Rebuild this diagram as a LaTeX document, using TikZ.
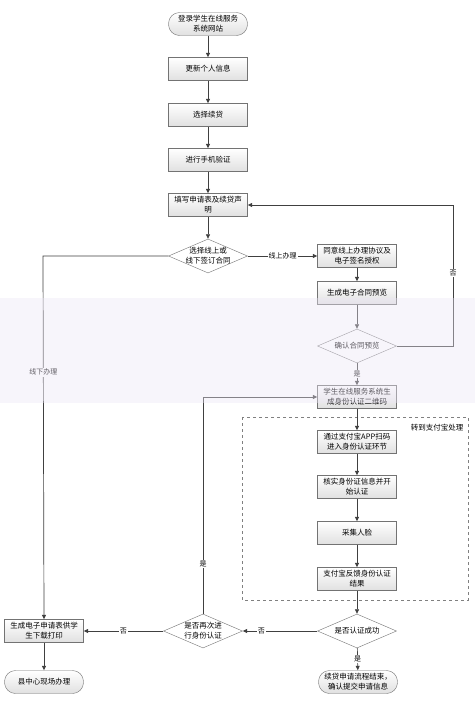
\documentclass[tikz,border=0pt]{standalone}
\usepackage{fontspec}
\setmainfont{Noto Sans CJK SC}
\usetikzlibrary{shapes.geometric,arrows.meta}
\definecolor{band}{RGB}{236,230,246}
\begin{document}
\begin{tikzpicture}[x=1pt,y=-1pt,
  every node/.style={font=\fontsize{7.5}{10}\selectfont},
  box/.style={draw=black!55, top color=white, bottom color=black!12, minimum width=79pt, minimum height=23pt, text width=74pt, align=center, inner sep=1pt},
  term/.style={box, rounded corners=11pt},
  dec/.style={diamond, draw=black!55, fill=white, minimum width=79pt, minimum height=34pt, inner sep=0pt},
  dectext/.style={align=center, inner sep=0pt},
  arr/.style={draw=black!75, line width=0.7pt, -{Triangle[length=4.5pt,width=4pt]}},
  lab/.style={fill=white, inner sep=1pt, font=\fontsize{7}{8}\selectfont}]
\useasboundingbox (0,0) rectangle (475,702);
\fill[white] (0,0) rectangle (475,702);

% main column
\node[term] (n1) at (208,24) {登录学生在线服务\\系统网站};
\node[box] (n2) at (208,69) {更新个人信息};
\node[box] (n3) at (208,115) {选择续贷};
\node[box] (n4) at (208,160) {进行手机验证};
\node[box] (n5) at (208,205) {填写申请表及续贷声\\明};
\node[dec] (d1) at (208,256) {};
\node[dectext] at (d1) {选择线上或\\线下签订合同};

% online branch
\node[box] (a1) at (357,256) {同意线上办理协议及\\电子签名授权};
\node[box] (a2) at (357,293) {生成电子合同预览};
\node[dec] (d2) at (357,346) {};
\node[dectext] at (d2) {确认合同预览};
\node[box] (q) at (357,397) {学生在线服务系统生\\成身份认证二维码};

% alipay group
\draw[black!50, dashed] (242,417) rectangle (468,600);
\node (grp) at (437,428) {转到支付宝处理};
\node[box] (b1) at (357,442) {通过支付宝APP扫码\\进入身份认证环节};
\node[box] (b2) at (357,487) {核实身份证信息并开\\始认证};
\node[box] (b3) at (357,533) {采集人脸};
\node[box] (b4) at (357,579) {支付宝反馈身份认证\\结果};
\node[dec] (d3) at (357,631) {};
\node[dectext] at (d3) {是否认证成功};
\node[term] (e1) at (358,682) {续贷申请流程结束，\\确认提交申请信息};

% retry / offline
\node[dec] (d4) at (203,631) {};
\node[dectext] at (d4) {是否再次进\\行身份认证};
\node[box] (p) at (44,631) {生成电子申请表供学\\生下载打印};
\node[term] (e2) at (44,682) {县中心现场办理};

\coordinate (c1) at (453,346);
\coordinate (c2) at (453,205);
\coordinate (c3) at (203,397);
\coordinate (c4) at (43,256);

% connectors
\draw[arr] (n1) -- (n2);
\draw[arr] (n2) -- (n3);
\draw[arr] (n3) -- (n4);
\draw[arr] (n4) -- (n5);
\draw[arr] (n5) -- (d1);
\draw[arr] (d1) -- node[lab] {线上办理} (a1);
\draw[arr] (a1) -- (a2);
\draw[arr] (a2) -- (d2);
\draw[arr] (d2.east) -- (c1) -- node[lab, pos=0.52] {否} (c2) -- (n5.east);
\draw[arr] (d2) -- node[lab] {是} (q);
\draw[arr] (q) -- (b1);
\draw[arr] (b1) -- (b2);
\draw[arr] (b2) -- (b3);
\draw[arr] (b3) -- (b4);
\draw[arr] (b4) -- (d3);
\draw[arr] (d3) -- node[lab] {是} (e1);
\draw[arr] (d3) -- node[lab, pos=0.75] {否} (d4);
\draw[arr] (d4) -- node[lab] {否} (p);
\draw[arr] (d4.north) -- node[lab, pos=0.23] {是} (c3) -- (q.west);
\draw[arr] (d1.west) -- (c4) -- node[lab, pos=0.32] {线下办理} (p.north);
\draw[arr] (p) -- (e2);

% watermark band
\fill[fill=band, fill opacity=0.4] (0,298) rectangle (475,403);
\end{tikzpicture}
\end{document}
